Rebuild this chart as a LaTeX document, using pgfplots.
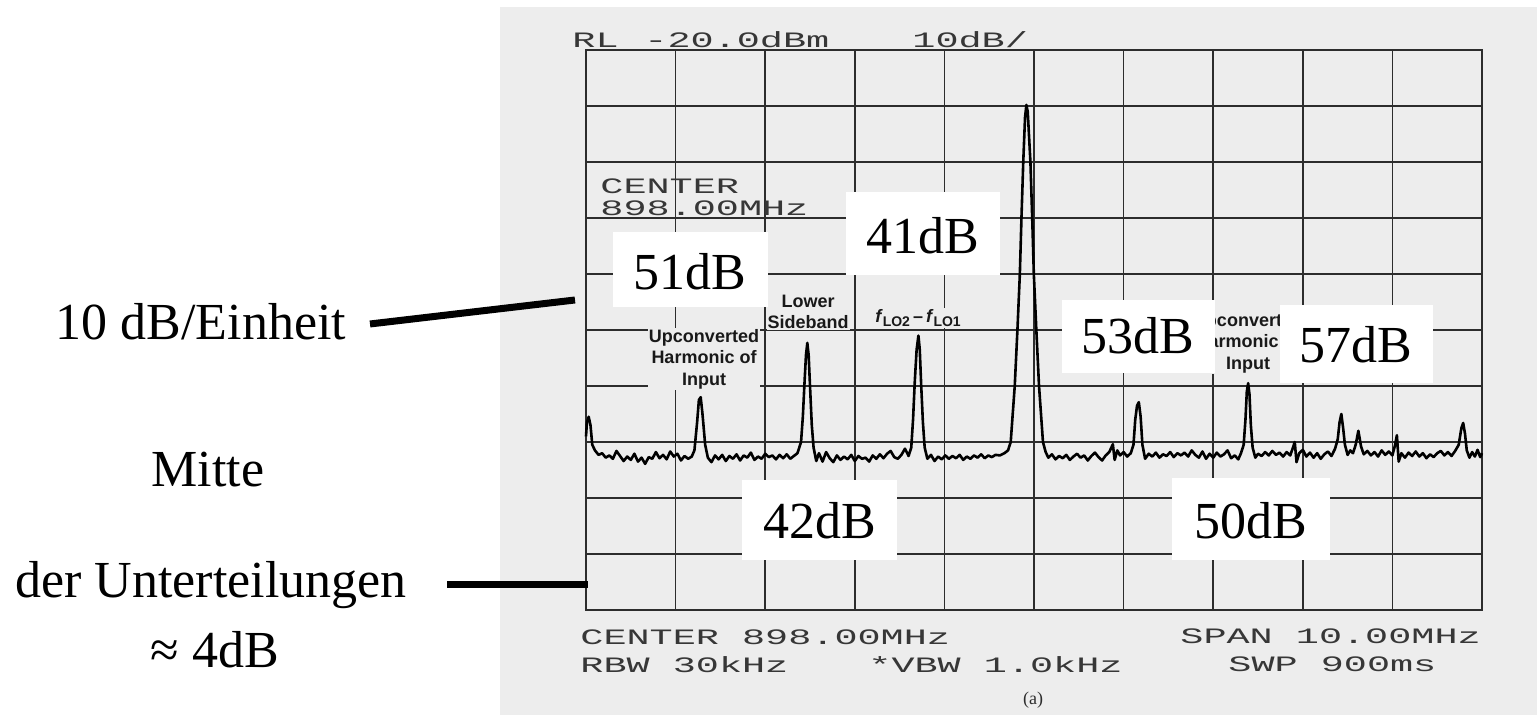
\documentclass[border=0pt]{standalone}
\usepackage{pgfplots}
\pgfplotsset{compat=1.18}
\usepackage{fontspec}
\setmainfont{Liberation Serif}
\newfontfamily\plotterfont[FakeStretch=1.75]{Liberation Mono}
\newfontfamily\labfont{Liberation Sans}
\definecolor{photobg}{RGB}{237,237,237}
\definecolor{ink}{RGB}{45,45,45}
\definecolor{pink}{RGB}{55,55,55}

\pgfplotstableread{
f y
893.00 -89.0
893.01 -86.5
893.03 -85.5
893.05 -87.0
893.07 -90.5
893.10 -91.5
893.14 -92.3
893.18 -92.0
893.22 -92.8
893.26 -92.4
893.30 -93.0
893.34 -91.6
893.38 -92.5
893.42 -93.4
893.46 -92.6
893.50 -93.2
893.54 -92.1
893.58 -93.5
893.62 -92.8
893.66 -93.9
893.70 -92.7
893.74 -93.0
893.78 -91.8
893.82 -92.9
893.86 -92.3
893.90 -93.1
893.94 -91.7
893.98 -92.6
894.02 -92.1
894.06 -93.3
894.10 -92.5
894.14 -93.0
894.18 -92.6
894.21 -91.5
894.24 -86.5
894.26 -82.5
894.28 -82.0
894.30 -85.0
894.33 -90.5
894.36 -92.8
894.40 -93.6
894.44 -92.4
894.48 -93.1
894.52 -92.3
894.56 -93.4
894.60 -92.5
894.64 -93.0
894.68 -92.2
894.72 -93.3
894.76 -92.4
894.80 -92.8
894.84 -91.9
894.88 -93.2
894.92 -92.6
894.96 -93.0
895.00 -92.1
895.04 -92.7
895.08 -92.4
895.12 -93.1
895.16 -92.3
895.20 -92.9
895.24 -92.2
895.28 -93.0
895.32 -92.5
895.36 -92.0
895.40 -90.0
895.42 -85.5
895.44 -79.0
895.455 -74.5
895.47 -72.3
895.485 -74.5
895.50 -80.0
895.52 -87.0
895.54 -91.0
895.57 -93.4
895.60 -92.0
895.64 -93.5
895.68 -91.8
895.72 -92.9
895.76 -93.6
895.80 -92.4
895.84 -93.2
895.88 -92.6
895.92 -93.1
895.96 -92.3
896.00 -93.4
896.04 -92.5
896.08 -93.0
896.12 -92.8
896.16 -93.5
896.20 -92.4
896.24 -93.0
896.28 -92.2
896.32 -92.9
896.36 -92.1
896.40 -91.6
896.44 -92.7
896.48 -93.0
896.52 -92.3
896.56 -91.2
896.60 -92.5
896.63 -91.0
896.65 -86.0
896.67 -79.0
896.69 -73.5
896.71 -71.0
896.725 -73.5
896.74 -79.5
896.76 -86.5
896.78 -91.0
896.81 -93.0
896.85 -92.3
896.89 -93.4
896.93 -92.6
896.97 -93.1
897.01 -92.4
897.05 -93.0
897.09 -92.5
897.13 -92.9
897.17 -92.3
897.21 -93.2
897.25 -92.6
897.29 -93.0
897.33 -92.4
897.37 -92.8
897.41 -92.2
897.45 -92.9
897.49 -92.4
897.53 -92.7
897.57 -92.3
897.62 -92.4
897.67 -92.0
897.71 -91.5
897.74 -90.0
897.785 -80.0
897.815 -70.0
897.842 -60.0
897.86 -50.0
897.88 -40.0
897.90 -32.0
897.915 -29.8
897.93 -31.0
897.96 -40.0
897.98 -50.0
897.998 -60.0
898.026 -70.0
898.056 -80.0
898.10 -90.0
898.13 -91.8
898.16 -92.8
898.20 -92.2
898.24 -93.1
898.28 -92.5
898.32 -92.9
898.36 -92.3
898.40 -93.2
898.44 -92.6
898.48 -92.1
898.52 -92.8
898.56 -92.4
898.60 -93.3
898.64 -92.5
898.68 -91.9
898.72 -92.7
898.76 -93.3
898.80 -92.4
898.84 -91.8
898.88 -90.4
898.90 -93.2
898.93 -91.5
898.96 -92.4
899.00 -91.8
899.04 -92.6
899.08 -92.0
899.11 -90.5
899.13 -86.0
899.15 -83.5
899.17 -82.9
899.19 -85.5
899.21 -90.5
899.24 -93.0
899.28 -92.1
899.32 -92.6
899.36 -91.9
899.40 -92.8
899.44 -92.2
899.48 -92.5
899.52 -91.8
899.56 -92.7
899.60 -92.0
899.64 -92.4
899.68 -91.9
899.72 -92.6
899.76 -91.5
899.80 -92.3
899.84 -92.8
899.88 -91.7
899.92 -93.0
899.96 -92.1
900.00 -92.8
900.04 -91.9
900.08 -92.6
900.12 -92.2
900.16 -91.5
900.20 -92.9
900.24 -92.4
900.28 -93.1
900.31 -92.0
900.34 -90.5
900.36 -86.0
900.375 -81.0
900.39 -79.5
900.405 -81.5
900.42 -87.0
900.44 -91.0
900.47 -92.8
900.50 -92.1
900.54 -92.5
900.58 -91.8
900.62 -92.4
900.66 -91.6
900.70 -92.3
900.74 -91.9
900.78 -92.6
900.82 -91.8
900.86 -92.4
900.89 -91.0
900.91 -90.0
900.93 -93.6
900.96 -92.0
901.00 -91.4
901.04 -92.6
901.08 -91.9
901.12 -92.8
901.16 -92.0
901.20 -93.0
901.24 -92.2
901.28 -91.7
901.32 -92.5
901.36 -91.2
901.39 -89.5
901.41 -86.5
901.43 -85.0
901.45 -87.5
901.47 -90.5
901.50 -92.3
901.53 -91.5
901.56 -92.0
901.59 -90.5
901.62 -88.0
901.65 -90.8
901.68 -92.2
901.72 -91.6
901.76 -92.4
901.80 -91.8
901.84 -92.6
901.88 -91.5
901.92 -92.3
901.96 -91.7
902.00 -92.4
902.03 -90.5
902.05 -88.8
902.07 -93.5
902.10 -92.0
902.14 -92.8
902.18 -91.9
902.22 -92.5
902.26 -91.7
902.30 -92.6
902.34 -92.0
902.38 -92.9
902.42 -92.2
902.46 -92.7
902.50 -92.0
902.54 -91.6
902.58 -92.4
902.62 -91.8
902.66 -92.5
902.70 -91.6
902.74 -90.5
902.77 -87.5
902.79 -86.6
902.81 -88.5
902.83 -91.5
902.86 -92.8
902.89 -91.8
902.92 -92.6
902.95 -91.4
902.98 -92.7
903.00 -92.0
}\trace

\begin{document}
\begin{tikzpicture}[x=0.5pt,y=0.5pt]
\useasboundingbox (0,0) rectangle (1537,715);
\fill[white] (0,0) rectangle (1537,715);
\fill[photobg] (500,0) rectangle (1537,708);

\begin{axis}[
  at={(293pt,52.5pt)}, anchor=south west,
  scale only axis, width=448pt, height=280pt,
  xmin=893, xmax=903, ymin=-120, ymax=-20,
  xtick={893,894,...,903}, ytick={-120,-110,...,-20},
  xticklabels={}, yticklabels={},
  major tick length=0pt,
  grid=major,
  major grid style={ink, line width=0.75pt},
  axis line style={ink, line width=0.9pt},
  clip=false,
]
\addplot[black, line width=1.3pt, line join=round] table[x=f,y=y] {\trace};
\end{axis}

% plotter text
\tikzset{pl/.style={anchor=west, inner sep=0pt, text=pink, font=\plotterfont\fontsize{11}{11}\selectfont}}
\node[pl] at (572,715-40) {RL};
\node[pl] at (644,715-40) {-20.0dBm};
\node[pl] at (912,715-40) {10dB/};
\node[pl] at (600,715-186) {CENTER};
\node[pl] at (600,715-208) {898.00MHz};
\node[pl] at (580,715-637) {CENTER 898.00MHz};
\node[pl] at (1180,715-636) {SPAN 10.00MHz};
\node[pl] at (580,715-665) {RBW 30kHz};
\node[pl] at (868,715-665) {*VBW 1.0kHz};
\node[pl] at (1228,715-664) {SWP 900ms};
\node[inner sep=0pt, font=\fontsize{9}{9}\selectfont, text=ink] at (1033,715-700) {(a)};

% small peak labels
\tikzset{lb/.style={inner sep=0.5pt, fill=photobg, text=black!90, align=center, font=\labfont\bfseries\fontsize{9}{10.7}\selectfont}}
\node[lb] at (704,715-359) {Upconverted\\Harmonic of\\Input};
\node[lb] at (808,715-312) {Lower\\Sideband};
\node[lb] at (918,715-318) {\textit{f}\raisebox{-0.45ex}{\fontsize{7}{7}\selectfont LO2}\,\textendash\,\textit{f}\raisebox{-0.45ex}{\fontsize{7}{7}\selectfont LO1}};
\node[lb] at (1248,715-343) {Upconverted\\Harmonic of\\Input};

% white boxes with values
\fill[white] (613,715-232) rectangle (768,715-307);
\node[inner sep=0pt, font=\fontsize{26}{26}\selectfont] at (690,715-272) {51dB};
\fill[white] (846,715-192) rectangle (1000,715-275);
\node[inner sep=0pt, font=\fontsize{26}{26}\selectfont] at (923,715-236) {41dB};
\fill[white] (1062,715-300) rectangle (1215,715-373);
\node[inner sep=0pt, font=\fontsize{26}{26}\selectfont] at (1138,715-336) {53dB};
\fill[white] (1280,715-305) rectangle (1433,715-383);
\node[inner sep=0pt, font=\fontsize{26}{26}\selectfont] at (1356,715-345) {57dB};
\fill[white] (742,715-480) rectangle (897,715-560);
\node[inner sep=0pt, font=\fontsize{26}{26}\selectfont] at (820,715-521) {42dB};
\fill[white] (1172,715-478) rectangle (1330,715-560);
\node[inner sep=0pt, font=\fontsize{26}{26}\selectfont] at (1251,715-521) {50dB};

% left annotations
\node[inner sep=0pt, font=\fontsize{26}{26}\selectfont] at (201,715-322) {10 dB/Einheit};
\node[inner sep=0pt, font=\fontsize{26}{26}\selectfont] at (208,715-470) {Mitte};
\node[inner sep=0pt, font=\fontsize{26}{26}\selectfont] at (211,715-585) {der Unterteilungen};
\node[inner sep=0pt, font=\fontsize{26}{26}\selectfont] at (215,715-650) {≈ 4dB};
\draw[line width=3.5pt] (370,715-324) -- (575,715-300);
\draw[line width=3.5pt] (447,715-585) -- (588,715-585);
\end{tikzpicture}
\end{document}
